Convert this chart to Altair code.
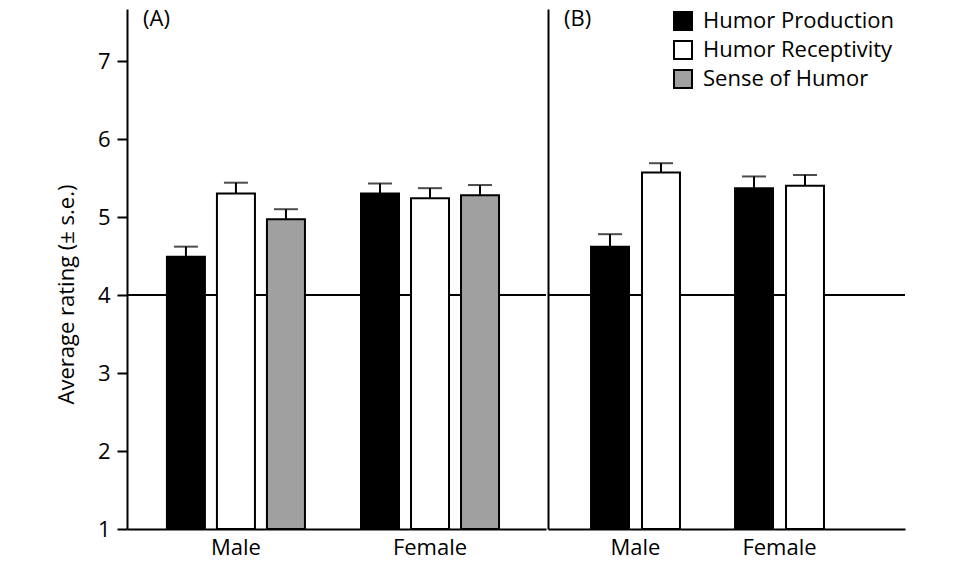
import altair as alt
import pandas as pd

# ---- data ----
series_all = ["Humor Production", "Humor Receptivity", "Sense of Humor"]
series_b = ["Humor Production", "Humor Receptivity"]
groups = ["Male", "Female"]

a_male_mean = [4.49, 5.30, 4.97]
a_male_se = [0.13, 0.14, 0.13]
a_female_mean = [5.30, 5.24, 5.28]
a_female_se = [0.13, 0.13, 0.13]

b_male_mean = [4.62, 5.57]
b_male_se = [0.16, 0.12]
b_female_mean = [5.37, 5.40]
b_female_se = [0.15, 0.14]

reference_line = [4]
panel_labels = ["(A)", "(B)"]
y_ticks = [1, 2, 3, 4, 5, 6, 7]
colors = ["#000000", "#ffffff", "#a0a0a0"]

FONT = "Open Sans"
FS = 22


def make_df(series, m_mean, m_se, f_mean, f_se):
    rows = []
    for s, m, e in zip(series, m_mean, m_se):
        rows.append({"sex": "Male", "series": s, "mean": m, "upper": m + e})
    for s, m, e in zip(series, f_mean, f_se):
        rows.append({"sex": "Female", "series": s, "mean": m, "upper": m + e})
    return pd.DataFrame(rows)


df_a = make_df(series_all, a_male_mean, a_male_se, a_female_mean, a_female_se)
df_b = make_df(series_b, b_male_mean, b_male_se, b_female_mean, b_female_se)

yscale = alt.Scale(domain=[1, 7.667], nice=False, zero=False)
cscale = alt.Scale(domain=series_all, range=colors)


def panel(df, series, width, x_scale, off_scale, label, first):
    if first:
        yaxis = alt.Axis(
            title="Average rating (± s.e.)", values=y_ticks, format="d", grid=False,
            domainColor="black", domainWidth=2, tickColor="black", tickWidth=2,
            tickSize=10, labelFontSize=FS, labelPadding=7, labelColor="black",
            titleFontSize=FS, titleFontWeight="normal", titleColor="black",
            titlePadding=19, titleY=285, labelFont=FONT, titleFont=FONT,
        )
    else:
        yaxis = alt.Axis(
            title=None, labels=False, ticks=False, grid=False,
            domainColor="black", domainWidth=2, values=y_ticks,
        )
    xaxis = alt.Axis(
        title=None, labelAngle=0, ticks=False, grid=False,
        domainColor="black", domainWidth=2, labelFontSize=FS,
        labelColor="black", labelPadding=8, labelFont=FONT,
    )
    x = alt.X("sex:N", sort=groups, scale=x_scale, axis=xaxis)
    xo = alt.XOffset("series:N", sort=series, scale=off_scale)

    base = alt.Chart(df)
    rule4 = alt.Chart(pd.DataFrame({"v": reference_line})).mark_rule(
        color="black", strokeWidth=2
    ).encode(y=alt.Y("v:Q", scale=yscale, axis=yaxis))

    bars = base.mark_bar(stroke="black", strokeWidth=2).encode(
        x=x, xOffset=xo,
        y=alt.Y("mean:Q", scale=yscale, axis=yaxis),
        y2=alt.datum(1),
        color=alt.Color(
            "series:N", scale=cscale,
            legend=alt.Legend(
                title=None, orient="none", legendX=545, legendY=1,
                symbolType="square", symbolSize=324, symbolStrokeColor="black",
                symbolStrokeWidth=2, labelFontSize=FS, labelFont=FONT,
                labelColor="black", labelOffset=9, rowPadding=3,
                labelLimit=400,
            ),
        ),
    )
    err = base.mark_rule(color="black", strokeWidth=2).encode(
        x=x, xOffset=xo, y=alt.Y("mean:Q", scale=yscale), y2="upper:Q"
    )
    cap = base.mark_tick(color="black", thickness=2, size=24).encode(
        x=x, xOffset=xo, y=alt.Y("upper:Q", scale=yscale)
    )
    txt = alt.Chart(pd.DataFrame({"t": [label]})).mark_text(
        align="left", baseline="top", fontSize=22, font=FONT, color="black"
    ).encode(text="t:N", x=alt.value(16), y=alt.value(0))

    return alt.layer(rule4, bars, err, cap, txt).properties(width=width, height=520)


pa = panel(
    df_a, series_all, 419,
    alt.Scale(paddingInner=0.227, paddingOuter=0.193, align=0.453),
    alt.Scale(domain=series_all, paddingInner=0.24, paddingOuter=0.12),
    panel_labels[0], True,
)
pb = panel(
    df_b, series_b, 357,
    alt.Scale(paddingInner=0.306, paddingOuter=0.3925, align=0.332),
    alt.Scale(domain=series_b, paddingInner=0.255, paddingOuter=0.108),
    panel_labels[1], False,
)

chart = (
    alt.hconcat(pa, pb, spacing=0)
    .resolve_scale(xOffset="independent", x="independent")
    .properties(padding={"left": 47, "top": 0, "right": 5, "bottom": 5}, background="white")
    .configure_view(stroke=None)
)

chart.save("out.html", embed_options={"renderer": "svg", "actions": False})
